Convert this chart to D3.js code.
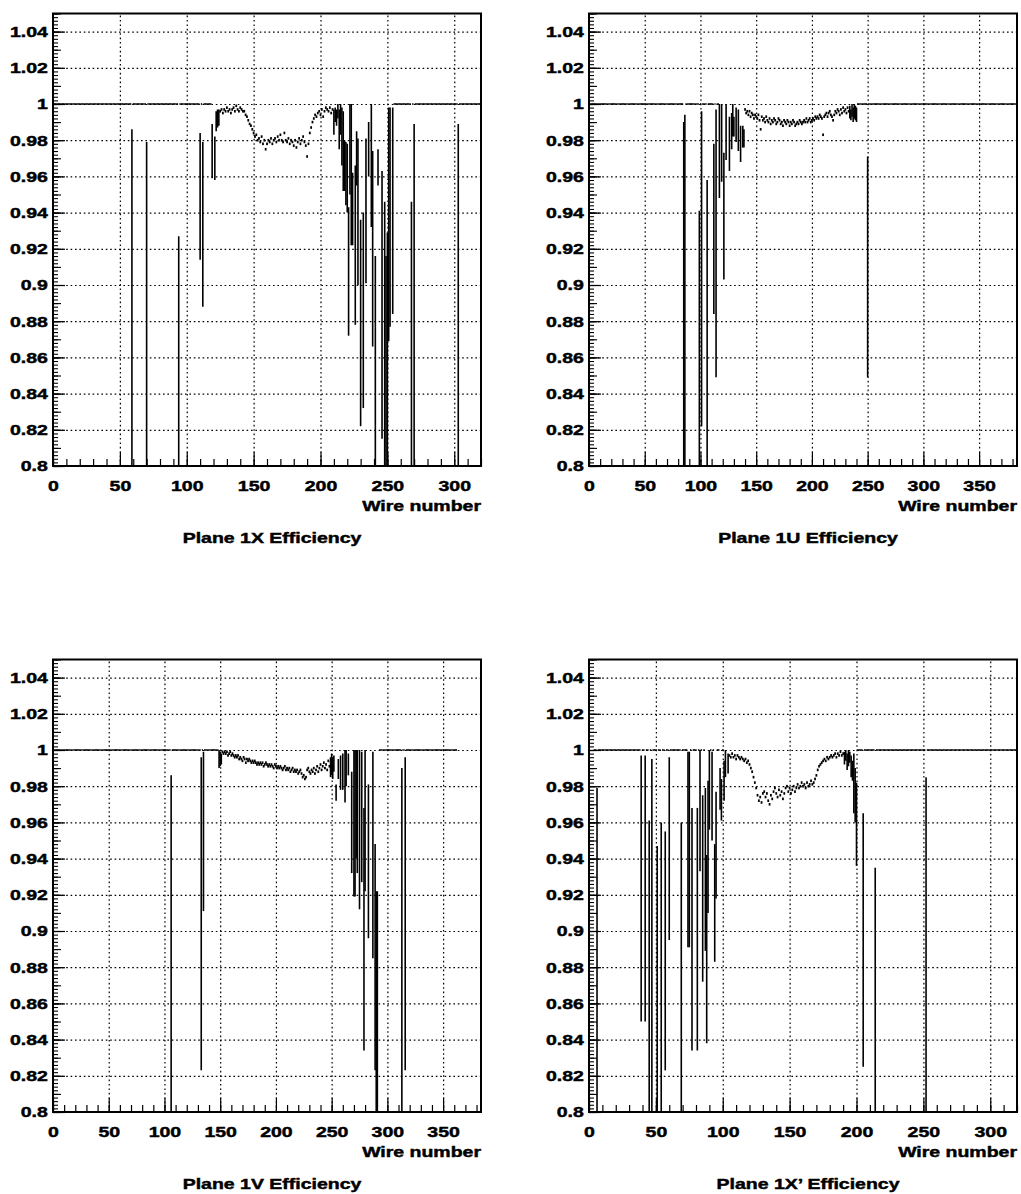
<!DOCTYPE html>
<html><head><meta charset="utf-8">
<script src="https://cdn.jsdelivr.net/npm/d3@7"></script>
<style>
body{margin:0;background:#fff;}
svg{display:block;background:#fff;}
text{font-family:"Liberation Sans",Arial,Helvetica,sans-serif;font-weight:bold;font-size:15px;fill:#000;stroke:#000;stroke-width:0.45px;}
</style></head><body>
<svg id="c" width="1021" height="1194"></svg>
<script>
// ---------------- shared axis values ----------------
const yTickVals   = [0.8,0.82,0.84,0.86,0.88,0.9,0.92,0.94,0.96,0.98,1,1.02,1.04];
const yTickLabels = ["0.8","0.82","0.84","0.86","0.88","0.9","0.92","0.94","0.96","0.98","1","1.02","1.04"];
const xTitle = "Wire number";

// ---------------- Plane 1X ----------------
const x1Title = "Plane 1X Efficiency";
const x1XMax = 320;
const x1XTicks = [0,50,100,150,200,250,300];
const x1XTickLabels = ["0","50","100","150","200","250","300"];
const x1FlatRanges = [[0,118],[255,319]];          // wires with efficiency exactly 1
const x1BarWire = [59,70,94,110,112,119,121,122,123,124,210,211,212,213,214,215,216,217,218,219,220,221,222,223,224,226,227,228,230,232,234,236,238,239,241,243,246,248,249,250,251,252,254,268,270,303];
const x1BarHigh = [0.986,0.979,0.927,0.984,0.979,0.989,0.982,0.996,0.997,0.997,0.997,0.998,0.997,1.000,0.997,1.000,0.998,0.996,0.980,0.979,0.978,0.943,1.000,1.000,0.962,0.966,0.985,0.981,0.936,0.940,0.981,0.990,1.000,0.974,0.916,0.975,0.963,0.946,0.916,0.929,0.998,0.998,0.998,0.946,0.989,0.989];
const x1BarLow  = [0.70,0.70,0.70,0.914,0.888,0.959,0.958,0.985,0.987,0.988,0.983,0.990,0.988,0.992,0.975,0.983,0.966,0.952,0.952,0.944,0.940,0.872,0.950,0.922,0.922,0.878,0.955,0.900,0.822,0.832,0.901,0.960,0.932,0.866,0.70,0.955,0.815,0.70,0.70,0.70,0.869,0.877,0.884,0.70,0.70,0.70];
const x1CurveStart = 125;
const x1CurveEff = [0.996,0.997,0.995,0.997,0.996,0.998,0.996,0.997,0.995,0.997,
  0.998,0.996,0.999,0.997,0.996,0.998,0.997,0.996,0.996,0.994,
  0.993,0.991,0.989,0.988,0.986,0.984,0.982,0.983,0.980,0.981,
  0.979,0.982,0.978,0.980,0.975,0.978,0.980,0.979,0.981,0.978,
  0.980,0.981,0.979,0.982,0.980,0.983,0.980,0.979,0.984,0.980,
  0.979,0.981,0.978,0.980,0.979,0.977,0.980,0.976,0.979,0.981,
  0.978,0.980,0.982,0.979,0.977,0.971,0.978,0.984,0.987,0.990,
  0.992,0.994,0.993,0.995,0.996,0.994,0.997,0.993,0.996,0.998,
  0.997,0.996,0.998,0.995,0.997];

// ---------------- Plane 1U ----------------
const u1Title = "Plane 1U Efficiency";
const u1XMax = 384;
const u1XTicks = [0,50,100,150,200,250,300,350];
const u1XTickLabels = ["0","50","100","150","200","250","300","350"];
const u1FlatRanges = [[0,116],[241,383]];
const u1BarWire = [85,86,99,101,106,112,114,117,119,121,123,126,128,129,130,132,134,136,138,139,234,235,236,237,238,239,240,250];
const u1BarHigh = [0.990,0.994,0.941,0.996,0.958,0.978,0.997,1.000,1.000,0.973,1.000,0.993,0.995,1.000,0.993,0.998,0.997,0.988,0.988,0.986,0.999,0.997,1.000,0.998,1.000,0.999,0.998,0.971];
const u1BarLow  = [0.70,0.70,0.70,0.822,0.70,0.884,0.849,0.948,0.957,0.903,0.969,0.963,0.975,0.982,0.982,0.979,0.974,0.968,0.976,0.976,0.992,0.991,0.993,0.990,0.992,0.991,0.990,0.849];
const u1CurveStart = 140;
const u1CurveEff = [0.997,0.995,0.996,0.994,0.996,0.993,0.995,0.994,0.992,0.994,
  0.993,0.992,0.994,0.991,0.986,0.993,0.991,0.992,0.990,0.993,
  0.991,0.990,0.992,0.989,0.991,0.990,0.992,0.991,0.989,0.990,
  0.992,0.991,0.989,0.990,0.988,0.991,0.990,0.989,0.991,0.990,
  0.988,0.990,0.989,0.991,0.990,0.988,0.989,0.990,0.989,0.991,
  0.990,0.989,0.990,0.991,0.990,0.992,0.990,0.991,0.992,0.990,
  0.991,0.992,0.991,0.993,0.992,0.993,0.992,0.994,0.993,0.992,
  0.983,0.993,0.994,0.995,0.993,0.995,0.996,0.994,0.993,0.991,
  0.994,0.996,0.995,0.997,0.996,0.994,0.997,0.995,0.998,0.996,
  0.997,0.995,0.998,0.996];

// ---------------- Plane 1V ----------------
const v1Title = "Plane 1V Efficiency";
const v1XMax = 384;
const v1XTicks = [0,50,100,150,200,250,300,350];
const v1XTickLabels = ["0","50","100","150","200","250","300","350"];
const v1FlatRanges = [[0,148],[293,362]];
const v1BarWire = [106,133,135,149,150,151,249,250,251,252,254,256,258,260,262,263,265,268,270,271,272,273,275,277,279,280,283,287,289,290,291,313,316];
const v1BarHigh = [0.986,0.996,0.999,1.000,0.999,0.998,0.996,0.998,0.996,0.997,0.981,0.995,0.997,0.998,1.000,1.000,0.998,0.988,1.000,1.000,1.000,1.000,1.000,0.999,0.968,1.000,0.981,0.999,0.948,0.922,0.922,0.990,0.996];
const v1BarLow  = [0.70,0.823,0.911,0.990,0.991,0.992,0.985,0.986,0.984,0.988,0.972,0.984,0.978,0.978,0.971,0.980,0.986,0.932,0.919,0.919,0.940,0.932,0.912,0.927,0.834,0.922,0.896,0.885,0.823,0.70,0.70,0.70,0.823];
const v1CurveStart = 152;
const v1CurveEff = [0.999,0.998,0.999,0.998,0.999,0.997,0.998,0.999,0.997,0.998,
  0.997,0.996,0.997,0.996,0.997,0.995,0.996,0.995,0.994,0.996,
  0.995,0.993,0.995,0.994,0.995,0.994,0.993,0.994,0.993,0.994,
  0.993,0.992,0.993,0.992,0.993,0.992,0.993,0.991,0.992,0.993,
  0.992,0.991,0.992,0.991,0.992,0.991,0.990,0.992,0.991,0.990,
  0.991,0.990,0.991,0.990,0.989,0.990,0.991,0.989,0.990,0.989,
  0.990,0.988,0.989,0.990,0.988,0.989,0.988,0.989,0.987,0.988,
  0.989,0.987,0.985,0.986,0.984,0.985,0.989,0.990,0.988,0.987,
  0.989,0.988,0.990,0.987,0.989,0.991,0.988,0.990,0.992,0.989,
  0.991,0.993,0.990,0.992,0.989,0.994,0.991];

// ---------------- Plane 1X' ----------------
const xp1Title = "Plane 1X\u2019 Efficiency";
const xp1XMax = 320;
const xp1XTicks = [0,50,100,150,200,250,300];
const xp1XTickLabels = ["0","50","100","150","200","250","300"];
const xp1FlatRanges = [[4,100],[201,319]];
const xp1BarWire = [6,39,42,45,47,51,54,57,60,69,74,75,77,81,83,85,87,88,89,90,92,94,95,98,99,101,102,104,191,192,193,194,195,196,197,198,199,200,205,214,252];
const xp1BarHigh = [0.979,0.997,0.997,0.961,0.995,0.947,0.960,0.955,0.996,0.960,0.999,0.999,0.968,0.968,1.000,0.975,0.979,0.942,0.983,1.000,0.999,0.948,0.977,0.990,0.984,0.994,1.000,0.998,0.999,1.000,0.998,1.000,0.999,0.997,0.994,0.998,0.990,0.982,0.965,0.935,0.985];
const xp1BarLow  = [0.70,0.850,0.850,0.70,0.70,0.70,0.70,0.823,0.895,0.70,0.891,0.891,0.834,0.834,0.933,0.872,0.889,0.838,0.910,0.956,0.950,0.883,0.918,0.967,0.961,0.972,0.985,0.987,0.992,0.994,0.989,0.991,0.993,0.985,0.983,0.965,0.960,0.936,0.825,0.70,0.70];
const xp1CurveStart = 105;
const xp1CurveEff = [0.997,0.996,0.998,0.996,0.997,0.995,0.997,0.996,0.995,0.996,
  0.995,0.994,0.995,0.993,0.994,0.992,0.990,0.988,0.985,0.982,
  0.979,0.975,0.972,0.974,0.971,0.976,0.977,0.974,0.976,0.972,
  0.970,0.975,0.973,0.977,0.979,0.976,0.974,0.978,0.975,0.977,
  0.973,0.976,0.979,0.980,0.977,0.979,0.976,0.978,0.980,0.977,
  0.979,0.981,0.979,0.980,0.982,0.980,0.981,0.979,0.982,0.980,
  0.981,0.983,0.981,0.982,0.984,0.986,0.989,0.991,0.992,0.993,
  0.994,0.995,0.994,0.996,0.995,0.996,0.997,0.996,0.997,0.998,
  0.996,0.998,0.997,0.999,0.997,0.998];

// ---------------- layout ----------------
const Y_MIN = 0.8, Y_MAX = 1.05;
const PW = 428, PH = 452.5;
const SX = 1.3; // horizontal text stretch of the original rendering

const panels = [
  {title:x1Title, left:53,  top:13.5,  xMax:x1XMax, xTicks:x1XTicks, xLabels:x1XTickLabels, flat:x1FlatRanges, bw:x1BarWire, bh:x1BarHigh, bl:x1BarLow, cs:x1CurveStart, ce:x1CurveEff},
  {title:u1Title, left:589, top:13.5,  xMax:u1XMax, xTicks:u1XTicks, xLabels:u1XTickLabels, flat:u1FlatRanges, bw:u1BarWire, bh:u1BarHigh, bl:u1BarLow, cs:u1CurveStart, ce:u1CurveEff},
  {title:v1Title, left:53,  top:659.5, xMax:v1XMax, xTicks:v1XTicks, xLabels:v1XTickLabels, flat:v1FlatRanges, bw:v1BarWire, bh:v1BarHigh, bl:v1BarLow, cs:v1CurveStart, ce:v1CurveEff},
  {title:xp1Title,left:589, top:659.5, xMax:xp1XMax,xTicks:xp1XTicks,xLabels:xp1XTickLabels,flat:xp1FlatRanges,bw:xp1BarWire,bh:xp1BarHigh,bl:xp1BarLow,cs:xp1CurveStart,ce:xp1CurveEff}
];

const svg = d3.select("#c");
const defs = svg.append("defs");

panels.forEach((p, pi) => {
  const g = svg.append("g");
  const bottom = p.top + PH;
  const x = d3.scaleLinear().domain([0, p.xMax]).range([p.left, p.left + PW]);
  const y = d3.scaleLinear().domain([Y_MIN, Y_MAX]).range([bottom, p.top]);

  // grid (dotted)
  g.append("g").attr("transform", `translate(0,${bottom})`)
    .call(d3.axisBottom(x).tickValues(p.xTicks.filter(v => v > 0)).tickSize(-PH).tickFormat(""))
    .call(a => a.select(".domain").remove())
    .selectAll("line").attr("stroke", "#000").attr("stroke-width", 1.2).attr("stroke-dasharray", "1.6,2.8");
  g.append("g").attr("transform", `translate(${p.left},0)`)
    .call(d3.axisLeft(y).tickValues(yTickVals.filter(v => v > Y_MIN)).tickSize(-PW).tickFormat(""))
    .call(a => a.select(".domain").remove())
    .selectAll("line").attr("stroke", "#000").attr("stroke-width", 1.2).attr("stroke-dasharray", "1.6,2.8");

  // clip
  const cid = "clip" + pi;
  defs.append("clipPath").attr("id", cid).append("rect")
    .attr("x", p.left).attr("y", p.top).attr("width", PW).attr("height", PH);
  const dg = g.append("g").attr("clip-path", `url(#${cid})`);

  const binW = x(1) - x(0);
  const barSet = new Set(p.bw);
  const flatWires = [];
  p.flat.forEach(([a, b]) => { for (let w = a; w <= b; w++) if (!barSet.has(w)) flatWires.push(w); });

  // efficiency == 1 points
  dg.append("g").selectAll("rect").data(flatWires).join("rect")
    .attr("x", w => x(w) - binW / 2).attr("width", binW + 0.05)
    .attr("y", y(1) - 0.8).attr("height", 1.6).attr("fill", "#000");

  // small-error points
  const curve = p.ce.map((v, i) => ({w: p.cs + i, v}));
  dg.append("g").selectAll("rect").data(curve).join("rect")
    .attr("x", d => x(d.w) - 0.9).attr("width", 1.8)
    .attr("y", d => y(d.v) - 1.3).attr("height", 2.6).attr("fill", "#000");

  // error bars
  const bars = p.bw.map((w, i) => ({w, hi: p.bh[i], lo: p.bl[i]}));
  dg.append("g").selectAll("line").data(bars).join("line")
    .attr("x1", d => x(d.w)).attr("x2", d => x(d.w))
    .attr("y1", d => y(d.hi)).attr("y2", d => y(d.lo))
    .attr("stroke", "#000").attr("stroke-width", 1.6);

  // ticks: x minor & major
  const xMinor = d3.range(0, p.xMax + 0.001, 10);
  g.append("g").attr("transform", `translate(0,${bottom})`)
    .call(d3.axisBottom(x).tickValues(xMinor).tickSize(-7).tickFormat(""))
    .call(a => a.select(".domain").remove())
    .selectAll("line").attr("stroke", "#000").attr("stroke-width", 1.2);
  const xa = g.append("g").attr("transform", `translate(0,${bottom})`)
    .call(d3.axisBottom(x).tickValues(p.xTicks).tickSize(-14).tickPadding(14).tickFormat((d, i) => p.xLabels[i]));
  xa.select(".domain").remove();
  xa.selectAll("line").attr("stroke", "#000").attr("stroke-width", 1.2);
  xa.selectAll("text").attr("transform", `scale(${SX},1)`);

  // ticks: y
  const yMinor = d3.range(0, 126).map(i => Y_MIN + i * 0.002);
  g.append("g").attr("transform", `translate(${p.left},0)`)
    .call(d3.axisLeft(y).tickValues(yMinor).tickSize(-5).tickFormat(""))
    .call(a => a.select(".domain").remove())
    .selectAll("line").attr("stroke", "#000").attr("stroke-width", 1.1);
  const yMid = d3.range(0, 26).map(i => Y_MIN + i * 0.01);
  g.append("g").attr("transform", `translate(${p.left},0)`)
    .call(d3.axisLeft(y).tickValues(yMid).tickSize(-8).tickFormat(""))
    .call(a => a.select(".domain").remove())
    .selectAll("line").attr("stroke", "#000").attr("stroke-width", 1.1);
  const ya = g.append("g").attr("transform", `translate(${p.left},0)`)
    .call(d3.axisLeft(y).tickValues(yTickVals).tickSize(-12).tickPadding(4).tickFormat((d, i) => yTickLabels[i]));
  ya.select(".domain").remove();
  ya.selectAll("line").attr("stroke", "#000").attr("stroke-width", 1.2);
  ya.selectAll("text").attr("transform", `scale(${SX},1)`);

  // frame
  g.append("rect").attr("x", p.left).attr("y", p.top).attr("width", PW).attr("height", PH)
    .attr("fill", "none").attr("stroke", "#000").attr("stroke-width", 2);

  // axis title
  g.append("text").attr("transform", `translate(${p.left + PW},${p.top + 497.5}) scale(${SX},1)`)
    .attr("text-anchor", "end").text(xTitle);
  // panel title
  g.append("text").attr("transform", `translate(${p.left + PW / 2 + 5},${p.top + 529}) scale(${SX},1)`)
    .attr("text-anchor", "middle").text(p.title);
});
</script>
</body></html>
